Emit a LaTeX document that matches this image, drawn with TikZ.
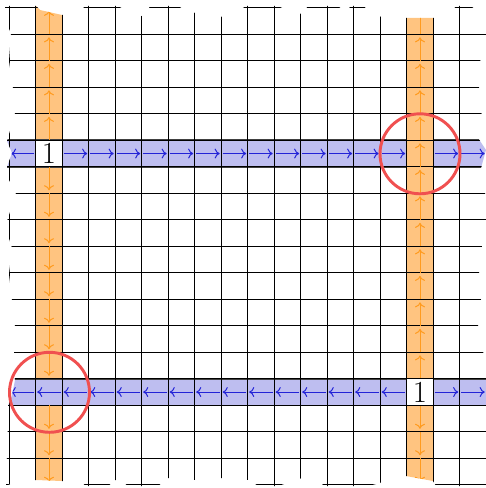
\documentclass[tikz,border=0pt]{standalone}
\usepackage{tikz}
\usetikzlibrary{arrows.meta}
\definecolor{bandblue}{RGB}{190,190,240}
\definecolor{bandorange}{RGB}{255,196,128}
\definecolor{arrblue}{RGB}{35,35,215}
\definecolor{arrorange}{RGB}{255,155,30}
\definecolor{ringred}{RGB}{240,80,80}

\begin{document}
\begin{tikzpicture}[x=0.75pt, y=-0.75pt,
    gridline/.style={black, line width=1pt},
    rowband/.style={fill=bandblue, draw=black!75, line width=1.2pt},
    colband/.style={fill=bandorange},
    rowarrow/.style={arrblue, line width=0.75pt, -{Computer Modern Rightarrow[length=3.8pt,width=7.5pt]}},
    colarrow/.style={arrorange, line width=0.75pt, -{Computer Modern Rightarrow[length=3.8pt,width=7.5pt]}},
    sourcecell/.style={fill=white, draw=black, line width=1pt, minimum size=19.9pt, inner sep=0pt, font=\fontsize{23}{26}\selectfont},
    ring/.style={ringred, line width=2.2pt}]
    \useasboundingbox (0,0) rectangle (485,488);

    \begin{scope}
    % torn sheet outline
    \clip (5,6) -- (36,6) -- (40,10) -- (62,15) -- (76,13) -- (86,6) -- (118,6) -- (130,13) -- (145,17) -- (150,6)
        -- (178,6) -- (188,12) -- (205,14) -- (223,17) -- (240,10) -- (246,6) -- (278,6) -- (290,12) -- (302,14)
        -- (308,6) -- (338,6) -- (345,12) -- (351,6) -- (364,6) -- (370,14) -- (382,17) -- (406,18) -- (435,18)
        -- (450,14) -- (456,6) -- (471,6) -- (478,12)
        -- (481,22) -- (486,34) -- (481,55) -- (478,80) -- (482,110) -- (478,138) -- (486,150) -- (481,168)
        -- (485,190) -- (486,225) -- (482,245) -- (479,270) -- (481,300) -- (478,325) -- (483,350) -- (486,380)
        -- (486,486)
        -- (436,486) -- (433,481) -- (406,476) -- (385,478) -- (380,483) -- (368,486) -- (324,486) -- (318,480)
        -- (302,478) -- (278,486) -- (258,486) -- (250,480) -- (222,478) -- (196,480) -- (168,478) -- (158,486)
        -- (128,486) -- (118,478) -- (108,486) -- (86,486) -- (80,481) -- (62,481) -- (36,480) -- (20,481)
        -- (12,483) -- (6,486)
        -- (6,470) -- (8,440) -- (7,420) -- (8,406) -- (12,395) -- (15,380) -- (14,360) -- (15,327) -- (12,300)
        -- (9,274) -- (12,248) -- (8,235) -- (7,221) -- (16,194) -- (9,180) -- (7,167) -- (12,153) -- (7,141)
        -- (15,114) -- (13,88) -- (9,61) -- (11,34) -- (6,20) -- cycle;

    % bands
    \fill[colband] (35.7,0) rectangle (62.2,490);
    \draw[rowband] (0,140.3) rectangle (490,166.8);
    \fill[colband] (406.7,0) rectangle (433.2,490);
    \draw[rowband] (0,378.8) rectangle (490,405.3);

    % grid
    \foreach \i in {0,...,17}
        \draw[gridline] ({9.2+26.5*\i},0) -- ({9.2+26.5*\i},490);
    \foreach \j in {0,...,18}
        \draw[gridline] (0,{7.8+26.5*\j}) -- (490,{7.8+26.5*\j});

    % row arrows
    \draw[rowarrow] (33.7,153.55) -- (11,153.55);
    \foreach \i in {2,...,14,16,17}
        \draw[rowarrow] ({9.2+26.5*\i+1.5},153.55) -- ({9.2+26.5*(\i+1)-1.5},153.55);
    \foreach \i in {0,...,14}
        \draw[rowarrow] ({9.2+26.5*(\i+1)-1.5},392.05) -- ({9.2+26.5*\i+1.5},392.05);
    \foreach \i in {16,17}
        \draw[rowarrow] ({9.2+26.5*\i+1.5},392.05) -- ({9.2+26.5*(\i+1)-1.5},392.05);

    % column arrows
    \foreach \j in {0,...,4}
        \draw[colarrow] (49,{7.8+26.5*(\j+1)}) -- (49,{7.8+26.5*\j+3});
    \foreach \j in {6,...,13,15,16,17}
        \draw[colarrow] (49,{7.8+26.5*\j}) -- (49,{7.8+26.5*(\j+1)-3});
    \foreach \j in {0,...,13}
        \draw[colarrow] (420,{7.8+26.5*(\j+1)}) -- (420,{7.8+26.5*\j+3});
    \foreach \j in {15,16,17}
        \draw[colarrow] (420,{7.8+26.5*\j}) -- (420,{7.8+26.5*(\j+1)-3});

    % sources
    \node[sourcecell] (srcleft) at (48.95,153.55) {1};
    \node[sourcecell] (srcright) at (419.95,392.05) {1};
    \end{scope}

    % crossings
    \coordinate (crossright) at (420,153.8);
    \coordinate (crossleft) at (49.5,392.3);
    \draw[ring] (crossright) circle[radius=40];
    \draw[ring] (crossleft) circle[radius=40];
\end{tikzpicture}
\end{document}
